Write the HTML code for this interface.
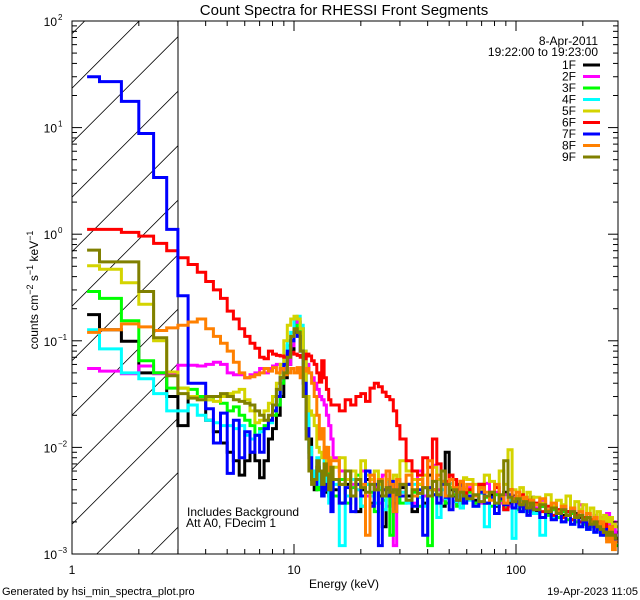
<!DOCTYPE html>
<html><head><meta charset="utf-8"><style>
html,body{margin:0;padding:0;background:#fff;width:640px;height:600px;overflow:hidden;}
svg{display:block;font-family:"Liberation Sans",sans-serif;}
</style></head><body>
<svg id="chart" width="640" height="600" viewBox="0 0 640 600">
<defs><clipPath id="plotclip"><rect x="72" y="21" width="546" height="533"/></clipPath>
<clipPath id="hatchclip"><rect x="72" y="21" width="106" height="533"/></clipPath></defs>
<rect x="0" y="0" width="640" height="600" fill="#fff"/>
<text x="344" y="15" font-size="15" text-anchor="middle">Count Spectra for RHESSI Front Segments</text>
<g id="hatch" clip-path="url(#hatchclip)"></g>
<line x1="178" y1="21" x2="178" y2="554" stroke="#000" stroke-width="1"/>
<g id="series" clip-path="url(#plotclip)"></g>
<rect x="72" y="21" width="546" height="533" fill="none" stroke="#000" stroke-width="1"/>
<g id="axes"></g>
<text x="187" y="516" font-size="12">Includes Background</text>
<text x="186" y="527" font-size="12">Att A0, FDecim 1</text>
<text x="598" y="45" font-size="12" text-anchor="end">8-Apr-2011</text>
<text x="598" y="56" font-size="12" text-anchor="end">19:22:00 to 19:23:00</text>
<g id="legend"></g>
<text x="344" y="588" font-size="12" text-anchor="middle">Energy (keV)</text>
<text transform="translate(38,290) rotate(-90)" font-size="12" text-anchor="middle">counts cm<tspan dy="-5" font-size="9">−2</tspan><tspan dy="5"> s</tspan><tspan dy="-5" font-size="9">−1</tspan><tspan dy="5"> keV</tspan><tspan dy="-5" font-size="9">−1</tspan></text>
<text x="2" y="595" font-size="11">Generated by hsi_min_spectra_plot.pro</text>
<text x="638" y="595" font-size="11" text-anchor="end">19-Apr-2023 11:05</text>
</svg>
<script>
const lowEdges = [1.17,1.33,1.67,2.0,2.33,2.67,3.0];
const seriesNames = ["1F","2F","3F","4F","5F","6F","7F","8F","9F"];
const seriesColors = ["#000000","#ff00ff","#00ff00","#00ffff","#d4d400","#ff0000","#0000ff","#ff8000","#808000"];
const xTickValues = [1,10,100];
const xTickLabels = ["1","10","100"];
const yTickExponents = [2,1,0,-1,-2,-3];
const s1F = [0.176,0.127,0.099,0.05,0.05,0.030,
0.016,0.030,0.030,0.018,0.014,0.011,0.009,0.0075,0.0055,0.0075,0.009,0.0075,0.0052,0.0075,0.012,0.015,0.02,0.03,0.045,0.06,0.08,0.12,0.15,0.13,0.07,0.03,0.012,0.006,0.004,0.0045,0.006,0.004,0.0038,0.005,0.0035,0.004,
0.004,0.003,0.0045,0.0035,0.0025,0.004,0.005,0.003,0.0042,0.0035,0.0018,0.004,0.0045,0.003,0.0038,0.0042,0.0035,0.0025,0.0045,0.003,0.0055,0.004,0.0035,0.0028,0.009,0.004,0.0035,0.0045,0.003,0.0038,0.004,0.0032,0.0045,0.003,0.0036,0.0028,0.0033,0.0038,0.003,0.0035,0.0032,0.0028,0.0026,0.003,0.0034,0.0025,0.0028,0.0024,0.0022,0.0026,0.0023,0.0025,0.0021,0.0024,0.0022,0.002,0.0018,0.0021,0.0019,0.0017,0.0019,0.0016,0.0018,0.0015,0.0016,0.0014];
const s2F = [0.055,0.052,0.049,0.058,0.049,0.048,
0.059,0.059,0.058,0.06,0.063,0.06,0.05,0.048,0.048,0.045,0.048,0.05,0.055,0.05,0.055,0.058,0.06,0.052,0.055,0.06,0.09,0.13,0.15,0.12,0.08,0.06,0.05,0.045,0.04,0.035,0.03,0.028,0.025,0.02,0.016,0.012,
0.008,0.006,0.005,0.0045,0.004,0.006,0.0035,0.005,0.0042,0.003,0.0055,0.0028,0.004,0.0012,0.0045,0.0038,0.0045,0.003,0.006,0.0035,0.0042,0.0068,0.004,0.0032,0.0045,0.0035,0.004,0.003,0.0048,0.0036,0.0042,0.0035,0.003,0.0046,0.0033,0.0038,0.003,0.0036,0.0028,0.0034,0.0031,0.0035,0.0029,0.0026,0.0032,0.0027,0.0031,0.0025,0.0028,0.0024,0.0027,0.0023,0.0026,0.0022,0.0029,0.0021,0.0024,0.002,0.0023,0.0019,0.0022,0.0018,0.0024,0.0017,0.002,0.0016];
const s3F = [0.29,0.25,0.154,0.065,0.05,0.036,
0.036,0.035,0.03,0.028,0.03,0.026,0.022,0.024,0.02,0.018,0.016,0.013,0.015,0.016,0.018,0.02,0.025,0.04,0.06,0.09,0.1,0.13,0.14,0.12,0.06,0.02,0.009,0.005,0.006,0.004,0.005,0.0035,0.005,0.004,0.006,0.0045,
0.0035,0.005,0.003,0.0042,0.0055,0.0028,0.0045,0.0038,0.0025,0.004,0.0032,0.0048,0.0015,0.004,0.0035,0.003,0.0045,0.0038,0.0028,0.0042,0.0012,0.004,0.0035,0.0048,0.003,0.0042,0.0036,0.0028,0.0045,0.0033,0.0038,0.003,0.0042,0.0034,0.0028,0.0036,0.0032,0.0027,0.0035,0.0031,0.0026,0.0033,0.0029,0.0025,0.003,0.0024,0.0028,0.0023,0.0026,0.0022,0.0025,0.0021,0.0024,0.002,0.0023,0.0019,0.0022,0.0018,0.002,0.0017,0.0019,0.0016,0.0018,0.0015,0.0014,0.0012];
const s4F = [0.127,0.084,0.05,0.044,0.032,0.022,
0.022,0.025,0.02,0.018,0.017,0.016,0.016,0.015,0.016,0.013,0.012,0.013,0.014,0.015,0.017,0.022,0.03,0.05,0.07,0.1,0.12,0.16,0.17,0.14,0.08,0.03,0.01,0.006,0.005,0.008,0.0045,0.006,0.01,0.004,0.003,0.005,
0.0045,0.0012,0.0035,0.005,0.004,0.0028,0.0045,0.0035,0.003,0.0042,0.0026,0.0048,0.0035,0.0032,0.004,0.0038,0.003,0.0045,0.0034,0.0028,0.0042,0.0036,0.0022,0.004,0.0033,0.0046,0.0031,0.0038,0.0027,0.0035,0.0032,0.0028,0.0037,0.0018,0.0033,0.0029,0.0035,0.0026,0.0032,0.0014,0.0028,0.0031,0.0025,0.0029,0.0027,0.0024,0.0015,0.0026,0.0022,0.0025,0.002,0.0023,0.0019,0.0022,0.0018,0.0021,0.0017,0.002,0.0016,0.0019,0.0017,0.0015,0.0018,0.0016,0.0015,0.0014];
const s5F = [0.505,0.47,0.35,0.22,0.10,0.051,
0.036,0.03,0.028,0.028,0.027,0.03,0.032,0.033,0.035,0.028,0.022,0.017,0.018,0.022,0.026,0.03,0.04,0.06,0.1,0.14,0.16,0.17,0.16,0.13,0.08,0.03,0.022,0.02,0.016,0.01,0.009,0.008,0.01,0.007,0.008,0.0065,
0.0065,0.008,0.005,0.006,0.0045,0.0075,0.0055,0.005,0.006,0.0045,0.004,0.005,0.0035,0.0055,0.0045,0.0075,0.006,0.005,0.0045,0.0055,0.004,0.0065,0.005,0.006,0.0045,0.0055,0.005,0.0042,0.0048,0.0052,0.005,0.0045,0.004,0.0055,0.0048,0.0042,0.006,0.0045,0.0095,0.004,0.0035,0.0042,0.0033,0.0038,0.0031,0.0034,0.003,0.0036,0.0028,0.0032,0.0029,0.0035,0.0027,0.0031,0.0026,0.0029,0.0024,0.0027,0.0022,0.0025,0.0021,0.0023,0.002,0.0022,0.0019,0.0018];
const s6F = [1.11,1.11,1.04,0.96,0.82,0.70,
0.60,0.52,0.44,0.36,0.30,0.25,0.19,0.16,0.13,0.11,0.095,0.085,0.07,0.068,0.08,0.075,0.073,0.072,0.07,0.075,0.078,0.075,0.073,0.07,0.068,0.075,0.072,0.065,0.06,0.05,0.041,0.065,0.045,0.035,0.028,0.025,
0.025,0.022,0.028,0.025,0.03,0.032,0.027,0.036,0.04,0.037,0.033,0.03,0.028,0.022,0.016,0.012,0.0075,0.006,0.0055,0.008,0.0065,0.012,0.007,0.006,0.0048,0.0055,0.005,0.004,0.0045,0.0035,0.004,0.0035,0.0045,0.003,0.0038,0.0042,0.0035,0.0026,0.004,0.0033,0.003,0.0036,0.0028,0.0032,0.0027,0.003,0.0025,0.0028,0.0023,0.0026,0.0022,0.0025,0.0021,0.0023,0.002,0.0022,0.0019,0.0021,0.0018,0.002,0.0017,0.0019,0.0016,0.0018,0.0015,0.0014];
const s7F = [30,27,17.6,8.8,3.4,1.11,
0.265,0.04,0.04,0.023,0.011,0.021,0.0057,0.018,0.008,0.014,0.009,0.013,0.009,0.015,0.018,0.022,0.03,0.045,0.06,0.08,0.1,0.12,0.11,0.08,0.04,0.015,0.008,0.005,0.0045,0.0065,0.006,0.0035,0.0045,0.004,0.0055,0.0025,
0.005,0.003,0.0042,0.0025,0.0045,0.0035,0.006,0.0028,0.0045,0.0012,0.004,0.0035,0.0048,0.0025,0.004,0.0035,0.0045,0.0028,0.004,0.0015,0.0042,0.0036,0.003,0.0045,0.0034,0.0026,0.0039,0.0032,0.0044,0.003,0.0035,0.0028,0.0038,0.003,0.0034,0.0024,0.0033,0.0029,0.0036,0.0027,0.0031,0.0025,0.0029,0.0023,0.0028,0.0026,0.0022,0.0025,0.0021,0.0024,0.002,0.0023,0.0019,0.0022,0.0018,0.002,0.0017,0.0019,0.0016,0.0018,0.0015,0.0017,0.0014,0.0016,0.0015,0.0013];
const s8F = [0.12,0.127,0.144,0.135,0.125,0.132,
0.14,0.15,0.16,0.13,0.11,0.095,0.08,0.063,0.05,0.045,0.046,0.048,0.05,0.055,0.052,0.056,0.05,0.055,0.048,0.05,0.055,0.05,0.056,0.045,0.052,0.055,0.05,0.04,0.03,0.02,0.012,0.015,0.008,0.01,0.006,0.0075,
0.0075,0.0045,0.006,0.0035,0.005,0.0045,0.0015,0.0055,0.004,0.005,0.0035,0.006,0.0045,0.0025,0.005,0.0045,0.0055,0.0035,0.005,0.0042,0.0075,0.004,0.0055,0.0048,0.0035,0.005,0.0042,0.0038,0.0048,0.004,0.0045,0.0035,0.0042,0.0038,0.0032,0.0045,0.0035,0.003,0.004,0.0033,0.0038,0.003,0.0034,0.0028,0.0032,0.0029,0.0033,0.0026,0.003,0.0025,0.0028,0.0023,0.0027,0.0022,0.0025,0.0021,0.0024,0.002,0.0022,0.0019,0.002,0.0016,0.0013,0.0018,0.0011,0.0013];
const s9F = [0.71,0.55,0.55,0.29,0.107,0.047,
0.032,0.029,0.028,0.03,0.03,0.032,0.03,0.028,0.027,0.026,0.025,0.022,0.02,0.018,0.02,0.025,0.035,0.045,0.05,0.07,0.11,0.13,0.12,0.08,0.03,0.012,0.006,0.0045,0.005,0.0075,0.006,0.0045,0.007,0.0055,0.004,0.0065,
0.005,0.0045,0.006,0.0035,0.005,0.0042,0.0038,0.0045,0.004,0.0048,0.0035,0.0042,0.0038,0.004,0.0036,0.0045,0.0032,0.004,0.0037,0.0042,0.0035,0.0048,0.0036,0.006,0.0045,0.0035,0.004,0.0032,0.0038,0.0035,0.0033,0.0036,0.0031,0.0035,0.0038,0.003,0.0036,0.0075,0.0034,0.0031,0.0033,0.0029,0.0031,0.0027,0.003,0.0026,0.0029,0.0025,0.0027,0.0024,0.0026,0.0023,0.0025,0.0022,0.0023,0.0021,0.0022,0.0019,0.002,0.0018,0.0017,0.0016,0.0015,0.0016,0.0015,0.0014];
const seriesValues = [s1F,s2F,s3F,s4F,s5F,s6F,s7F,s8F,s9F];

const edges = lowEdges.slice();
for (let k=1;k<=36;k++) edges.push(3+k/3);
for (let e=16;e<=30;e++) edges.push(e);
for (let e=32;e<=60;e+=2) edges.push(e);
for (let e=64;e<=120;e+=4) edges.push(e);
for (let e=128;e<=280;e+=8) edges.push(e);
edges.push(288);

const NS='http://www.w3.org/2000/svg';
const X0=72, DEC_X=222, Y_TOP=21, Y_BOT=554, DEC_Y=106.6, LOGMAX=2;
const xs = e => X0 + DEC_X*Math.log10(e);
const ys = v => Math.min(Y_BOT+2, Y_TOP + DEC_Y*(LOGMAX - Math.log10(v)));
function mk(tag, attrs, parent){const el=document.createElementNS(NS,tag);for(const k in attrs)el.setAttribute(k,attrs[k]);parent.appendChild(el);return el;}

const hatch=document.getElementById('hatch');
for(let c=323.7-54.5*4;c<178+554;c+=54.5){
  const lo=Math.max(72, c-554), hi=Math.min(178, c-21);
  if(lo>=hi) continue;
  const l=mk('line',{x1:lo,y1:c-lo,x2:hi,y2:c-hi,stroke:'#000','stroke-width':0.8},hatch);
  
  
}

const sg=document.getElementById('series');
seriesValues.forEach((vals,i)=>{
  let d='';
  for(let b=0;b<vals.length && b+1<edges.length;b++){
    const x1=xs(edges[b]).toFixed(1), x2=xs(edges[b+1]).toFixed(1), y=ys(vals[b]).toFixed(1);
    d += (b===0?'M':'L')+x1+','+y+' L'+x2+','+y+' ';
  }
  const p=mk('path',{d:d,fill:'none',stroke:seriesColors[i],'stroke-width':3,'stroke-linejoin':'miter'},sg);
  
  
});

const ax=document.getElementById('axes');
const YB=554, XR=618;
for(let dec=0;dec<=2;dec++){
  for(let m=1;m<=9;m++){
    const e=m*Math.pow(10,dec); if(e>288) break;
    const x=xs(e); const len=(m===1)?10:5;
    const t1=mk('line',{x1:x,y1:YB,x2:x,y2:YB-len,stroke:'#000'},ax);
    
    
    const t2=mk('line',{x1:x,y1:Y_TOP,x2:x,y2:Y_TOP+len,stroke:'#000'},ax);
    
    
  }
}
xTickValues.forEach((v,i)=>{
  const t=mk('text',{x:xs(v),y:574,'font-size':12,'text-anchor':'middle'},ax);
  t.textContent=xTickLabels[i];
  
  
});
yTickExponents.forEach(ex=>{
  for(let m=1;m<=9;m++){
    if(ex===2 && m>1) break;
    const y=ys(m*Math.pow(10,ex)); const len=(m===1)?10:5;
    const a=mk('line',{x1:X0,y1:y,x2:X0+len,y2:y,stroke:'#000'},ax);
    
    
    const b=mk('line',{x1:XR,y1:y,x2:XR-len,y2:y,stroke:'#000'},ax);
    
    
  }
  const t=mk('text',{x:57,y:ys(Math.pow(10,ex))+5,'font-size':12,'text-anchor':'end'},ax);
  t.textContent='10';
  
  
  const s=mk('text',{x:58,y:ys(Math.pow(10,ex))-1,'font-size':8},ax);
  s.textContent=String(ex).replace('-','−');
  
  
});

const lg=document.getElementById('legend');
seriesNames.forEach((n,i)=>{
  const y=65+i*11.5;
  const t=mk('text',{x:576,y:y+4,'font-size':12,'text-anchor':'end'},lg);
  t.textContent=n;
  
  
  const l=mk('line',{x1:583,y1:y,x2:600,y2:y,stroke:seriesColors[i],'stroke-width':3},lg);
  
  
});
</script>
</body></html>
